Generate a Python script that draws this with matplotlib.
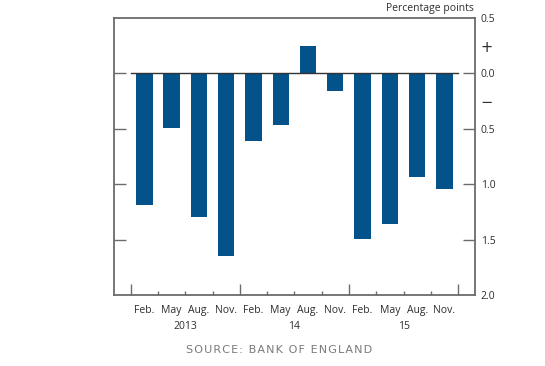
import matplotlib
matplotlib.use("Agg")
import matplotlib.pyplot as plt
import numpy as np

months = ["Feb.", "May", "Aug.", "Nov."] * 3
years = ["2013", "14", "15"]
values = [-1.19, -0.495, -1.295, -1.65, -0.61, -0.47, 0.25, -0.16, -1.495, -1.36, -0.935, -1.04]
ytick_vals = [0.5, 0.25, 0.0, -0.25, -0.5, -1.0, -1.5, -2.0]
ytick_labels = ["0.5", "+", "0.0", "\u2212", "0.5", "1.0", "1.5", "2.0"]
source_text = "SOURCE: BANK OF ENGLAND"

plt.rcParams['font.family'] = ['Open Sans', 'DejaVu Sans']

fig = plt.figure(figsize=(5.45, 3.66), dpi=100)
ax = fig.add_axes([113.5/545, 1-295/366, (475-113.5)/545, (295-18)/366])

bar_color = '#03528a'
spine_color = '#6b6b6b'
text_color = '#2e2e2e'

x = np.arange(len(values)) + 0.5
ax.bar(x, values, width=0.6, color=bar_color, zorder=3)
ax.plot([0, 12], [0, 0], color='#333333', lw=1.0, zorder=4)

ax.set_xlim(-0.63, 12.62)
ax.set_ylim(-2.0, 0.5)

for s in ax.spines.values():
    s.set_color(spine_color)
    s.set_linewidth(1.3)

ax.yaxis.tick_right()
ax.set_yticks(ytick_vals)
ax.set_yticklabels(ytick_labels)
ax.tick_params(axis='y', which='major', direction='in', length=8.5, width=1.0,
               color=spine_color, left=True, right=True, labelleft=False,
               labelright=True, labelsize=7.5, labelcolor=text_color, pad=4)
for i, t in enumerate(ax.yaxis.get_major_ticks()):
    if ytick_labels[i] in ("+", "\u2212") or i in (0, len(ytick_vals)-1):
        t.tick1line.set_visible(False)
        t.tick2line.set_visible(False)
for lbl in ax.get_yticklabels():
    if lbl.get_text() in ("+", "\u2212"):
        lbl.set_fontsize(10.5)
        lbl.set_family(['DejaVu Sans'])

ax.set_xticks([0, 4, 8, 12])
ax.set_xticks([1, 2, 3, 5, 6, 7, 9, 10, 11], minor=True)
ax.tick_params(axis='x', which='major', direction='in', length=8, width=1.0,
               color=spine_color, labelbottom=False, top=False)
ax.tick_params(axis='x', which='minor', direction='in', length=3, width=1.0,
               color=spine_color, labelbottom=False, top=False)

trans = ax.get_xaxis_transform()
for xi, m in zip(x, months):
    ax.text(xi, -0.035, m, transform=trans, ha='center', va='top',
            fontsize=7.5, color=text_color)
for k, yname in enumerate(years):
    ax.text(4*k + 2, -0.095, yname, transform=trans, ha='center', va='top',
            fontsize=7.5, color=text_color)

fig.text(474/545, 1-9/366, "Percentage points", ha='right', va='center',
         fontsize=7.5, color=text_color)
fig.text(279/545, 1-350/366, "\u200a".join(source_text),
         ha='center', va='center', fontsize=8, color='#7a7a7a',
         family=['DejaVu Sans'])

fig.savefig("out.png", dpi=100)
